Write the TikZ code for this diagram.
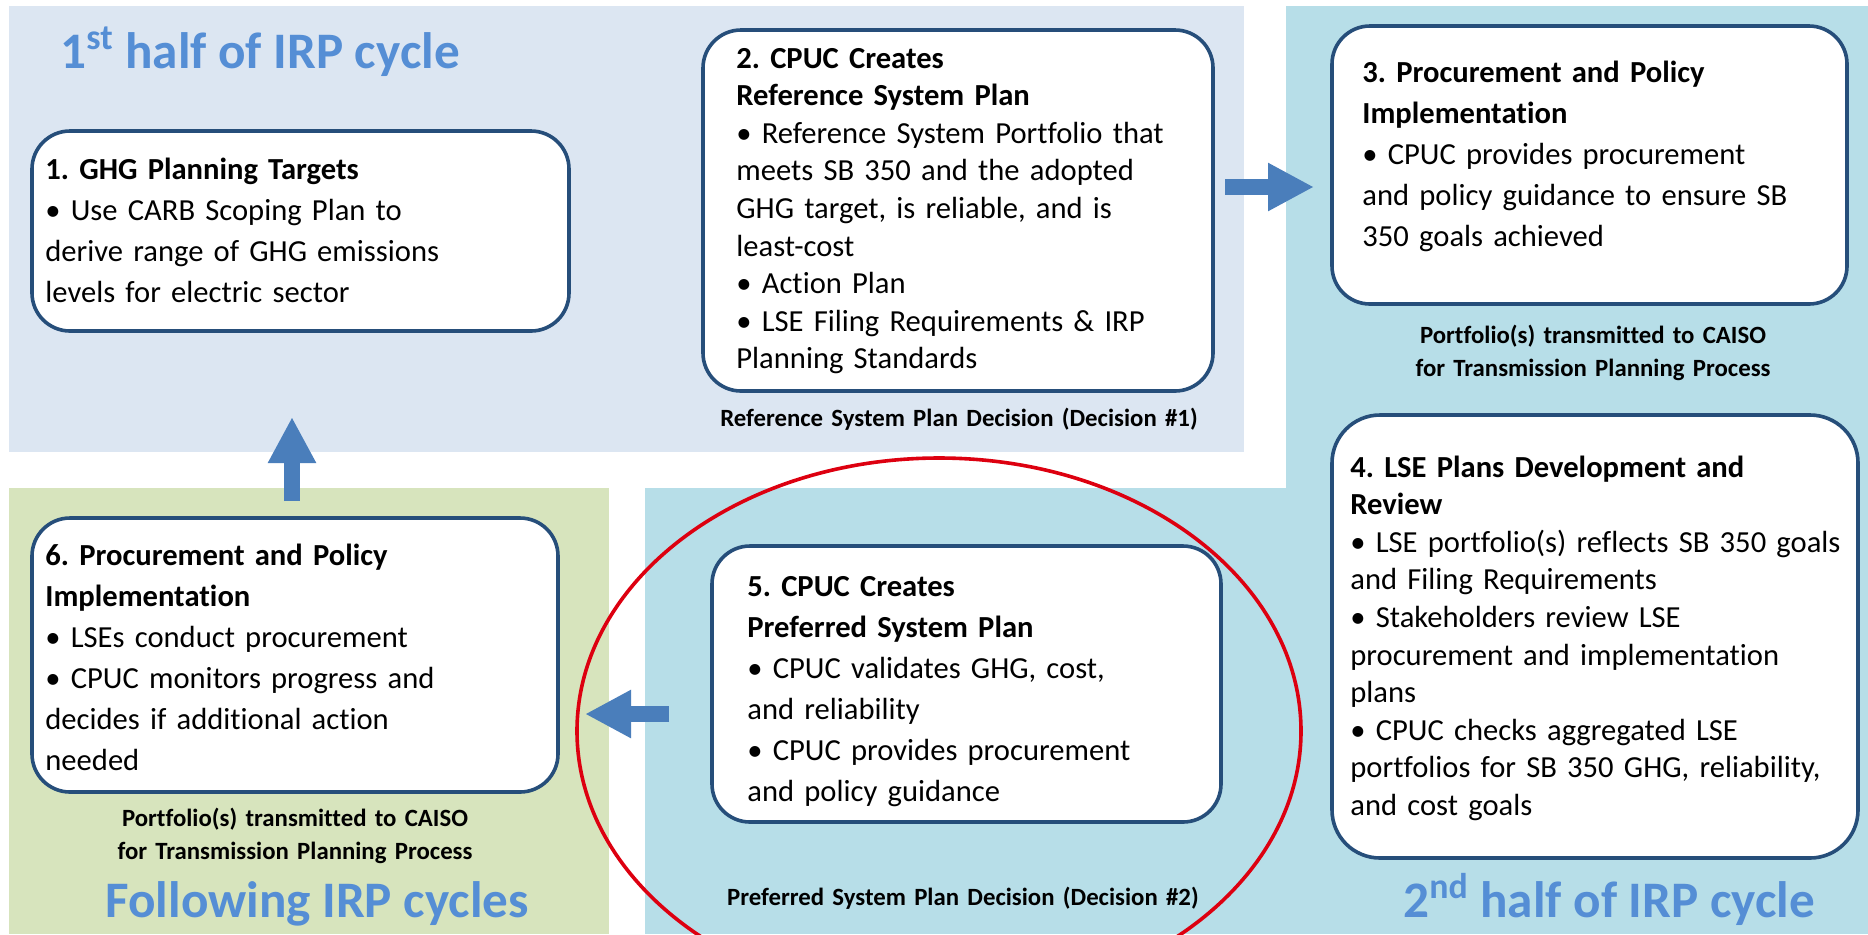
\documentclass[tikz,border=0pt]{standalone}
\usepackage{fontspec}
\setmainfont{Carlito}[Ligatures=NoCommon]
\usetikzlibrary{arrows.meta,shapes.geometric,calc}
\definecolor{bgA}{HTML}{DCE6F2}
\definecolor{bgB}{HTML}{B7DEE8}
\definecolor{bgC}{HTML}{D7E4BD}
\definecolor{boxline}{HTML}{264E7A}
\definecolor{arrowblue}{HTML}{4A7EBB}
\definecolor{titleblue}{HTML}{558ED5}
\definecolor{hlred}{HTML}{DD0010}
\frenchspacing
\tikzset{
  stepbox/.style={draw=boxline, line width=1.8pt, fill=white, rounded corners=19pt, inner sep=0pt},
  boxtext/.style={anchor=base west, inner sep=0pt, align=left, text width=300pt, font=\fontsize{15.3}{20.5}\selectfont},
  boxtextdense/.style={boxtext, font=\fontsize{15.3}{18.8}\selectfont},
  capt/.style={font=\bfseries\fontsize{12.4}{16.7}\selectfont, align=center, text width=300pt, inner sep=0pt, anchor=base},
  phasetitle/.style={font=\bfseries\fontsize{25.6}{30}\selectfont, text=titleblue, anchor=base west, inner sep=0pt},
  blockarrow/.style={draw=arrowblue, line width=8pt, -{Triangle[length=23pt, width=22.5pt]}},
  highlight/.style={draw=hlred, line width=1.8pt, ellipse, inner sep=0pt},
}
\begin{document}
\begin{tikzpicture}[x=0.5pt, y=-0.5pt]
\clip (0,0) rectangle (1868,934);
\fill[white] (0,0) rectangle (1868,934);
% background regions
\fill[bgA] (9,6) rectangle (1244,452);
\fill[bgB] (1286,6) rectangle (1868,934);
\fill[bgB] (645,488) rectangle (1286,934);
\fill[bgC] (9,488) rectangle (609,934);

% phase titles
\node[phasetitle] (t1) at (60,68) {1\textsuperscript{st} half of IRP cycle};
\node[phasetitle] (t2) at (105,917) {Following IRP cycles};
\node[phasetitle] (t3) at (1403,917) {2\textsuperscript{nd} half of IRP cycle};

% highlight
\node[highlight, minimum width=362pt, minimum height=273pt] (hl) at (939,731) {};

% boxes
\node[stepbox, minimum width=268.5pt, minimum height=100pt] (b1) at (300.5,231) {};
\node[stepbox, minimum width=255pt, minimum height=180.5pt] (b2) at (958,210.5) {};
\node[stepbox, minimum width=257.5pt, minimum height=139pt] (b3) at (1589.5,165) {};
\node[stepbox, rounded corners=24pt, minimum width=263pt, minimum height=221.5pt] (b4) at (1595,636.5) {};
\node[stepbox, minimum width=254.5pt, minimum height=138pt] (b5) at (966.5,684) {};
\node[stepbox, minimum width=263pt, minimum height=137pt] (b6) at (295,655) {};

% box texts
\node[boxtext] (x1) at (45,179) {\textbf{1. GHG Planning Targets}\\
• Use CARB Scoping Plan to\\
derive range of GHG emissions\\
levels for electric sector};
\node[boxtextdense] (x2) at (736,68) {\textbf{2. CPUC Creates}\\
\textbf{Reference System Plan}\\
• Reference System Portfolio that\\
meets SB 350 and the adopted\\
GHG target, is reliable, and is\\
least-cost\\
• Action Plan\\
• LSE Filing Requirements \& IRP\\
Planning Standards};
\node[boxtext] (x3) at (1362,82) {\textbf{3. Procurement and Policy}\\
\textbf{Implementation}\\
• CPUC provides procurement\\
and policy guidance to ensure SB\\
350 goals achieved};
\node[boxtextdense] (x4) at (1350,477) {\textbf{4. LSE Plans Development and}\\
\textbf{Review}\\
• LSE portfolio(s) reflects SB 350 goals\\
and Filing Requirements\\
• Stakeholders review LSE\\
procurement and implementation\\
plans\\
• CPUC checks aggregated LSE\\
portfolios for SB 350 GHG, reliability,\\
and cost goals};
\node[boxtext] (x5) at (747,596) {\textbf{5. CPUC Creates}\\
\textbf{Preferred System Plan}\\
• CPUC validates GHG, cost,\\
and reliability\\
• CPUC provides procurement\\
and policy guidance};
\node[boxtext] (x6) at (45,565) {\textbf{6. Procurement and Policy}\\
\textbf{Implementation}\\
• LSEs conduct procurement\\
• CPUC monitors progress and\\
decides if additional action\\
needed};

% captions
\node[capt] (c1) at (959,426) {Reference System Plan Decision (Decision \#1)};
\node[capt] (c3) at (1593,343) {Portfolio(s) transmitted to CAISO\\for Transmission Planning Process};
\node[capt] (c6) at (295,826) {Portfolio(s) transmitted to CAISO\\for Transmission Planning Process};
\node[capt] (c5) at (963,905) {Preferred System Plan Decision (Decision \#2)};

% block arrows
\coordinate (a1s) at (1225,187);
\coordinate (a1e) at (1314,187);
\coordinate (a2s) at (669,714);
\coordinate (a2e) at (585,714);
\coordinate (a3s) at (292,501);
\coordinate (a3e) at (292,417);
\draw[blockarrow] (a1s) -- (a1e);
\draw[blockarrow] (a2s) -- (a2e);
\draw[blockarrow] (a3s) -- (a3e);
\end{tikzpicture}
\end{document}
